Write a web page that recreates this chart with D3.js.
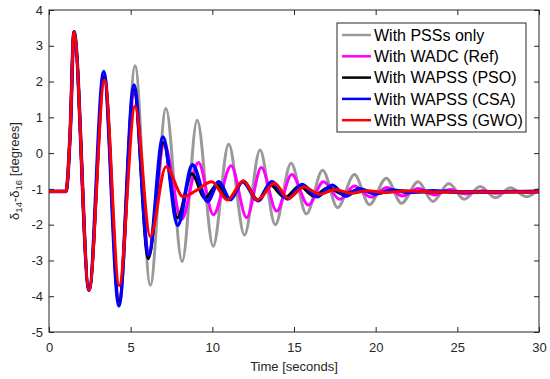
<!DOCTYPE html>
<html>
    <head>
        <meta charset="utf-8">
        <script src="https://d3js.org/d3.v7.min.js"></script>
        <style>
            body{ margin:0; background:#fff; }
            text{ font-family:"Liberation Sans", Arial, sans-serif; fill:#262626; }
        </style>
    </head>
    <body>
        <svg height="379" width="550" id="chart"></svg>
        <script>
            // [time (s), delta14-delta16 (deg)], mostly peaks and troughs
            const startPart=[[0,-1.07],[1.04,-1.07],[1.3,0.6],[1.53,3.39],[2.45,-3.83]];

            const pssOnly=[[3.4,2.2],[4.3,-4.25],[5.27,2.44],[6.2,-3.69],[7.16,1.25],[8.15,-3.03],
                [9.07,0.92],[10.05,-2.6],[11.0,0.25],[11.97,-2.29],[12.92,0.09],[13.85,-2.0],
                [14.82,-0.28],[15.76,-1.7],[16.75,-0.48],[17.67,-1.52],[18.7,-0.6],[19.62,-1.44],
                [20.65,-0.7],[21.58,-1.4],[22.6,-0.8],[23.5,-1.35],[24.48,-0.85],[25.42,-1.29],
                [26.4,-0.93],[27.33,-1.25],[28.25,-0.97],[29.25,-1.22],[30,-1.0]];

            const wadcRef=[[3.38,2.1],[4.3,-4.1],[5.22,1.65],[6.12,-2.75],[7.05,0.25],[8.12,-1.85],
                [9.15,-0.26],[10.06,-1.72],[11.15,-0.35],[12.1,-1.8],[13.0,-0.4],[13.94,-1.62],
                [14.86,-0.6],[15.88,-1.45],[16.8,-0.8],[17.8,-1.29],[18.7,-0.92],[19.7,-1.23],
                [20.7,-0.96],[21.65,-1.2],[22.6,-0.99],[23.6,-1.17],[24.55,-1.02],[25.5,-1.14],
                [26.5,-1.05],[27.4,-1.12],[28.4,-1.06],[29.3,-1.1],[30,-1.08]];

            const wapssPSO=[[3.37,2.15],[4.28,-4.15],[5.2,1.78],[6.08,-2.95],[7.0,0.3],[7.86,-1.81],
                [8.74,-0.58],[9.55,-1.26],[10.3,-0.88],[11.05,-1.3],[11.9,-0.78],[12.8,-1.31],
                [13.5,-0.88],[14.45,-1.24],[15.35,-0.92],[16.2,-1.2],[17.1,-0.97],[18.0,-1.15],
                [19.0,-1.02],[20.0,-1.12],[21.5,-1.05],[23.0,-1.09],[30,-1.08]];

            const wapssCSA=[[3.35,2.28],[4.28,-4.27],[5.2,1.9],[6.1,-2.85],[6.98,0.45],[7.88,-2.02],
                [8.78,-0.33],[9.7,-1.35],[10.4,-0.8],[11.1,-1.3],[11.85,-0.8],[12.8,-1.33],
                [13.65,-0.8],[14.6,-1.28],[15.5,-0.88],[16.4,-1.22],[17.35,-0.9],[18.15,-1.2],
                [19.0,-1.0],[20.0,-1.14],[21.0,-1.03],[22.0,-1.1],[23.5,-1.05],[25.0,-1.09],[30,-1.07]];

            const wapssGWO=[[3.4,2.04],[4.3,-3.7],[5.27,1.32],[6.2,-2.33],[7.16,-0.38],[8.22,-1.22],
                [9.0,-1.05],[9.96,-0.8],[10.92,-1.31],[11.9,-0.77],[12.76,-1.31],[13.8,-0.84],
                [14.65,-1.26],[15.6,-0.95],[16.6,-1.15],[17.5,-1.02],[18.5,-1.12],[19.5,-1.05],
                [20.5,-1.1],[22.0,-1.06],[24.0,-1.09],[30,-1.08]];

            const seriesNames=["With PSSs only","With WADC (Ref)","With WAPSS (PSO)","With WAPSS (CSA)","With WAPSS (GWO)"];
            const seriesColors=["#999999","#ff00ff","#000000","#0000ff","#ff0000"];
            const seriesWidths=[3,3,3,3.6,3];
            const seriesData=[pssOnly,wadcRef,wapssPSO,wapssCSA,wapssGWO];

            const xTicks=[0,5,10,15,20,25,30];
            const yTicks=[-5,-4,-3,-2,-1,0,1,2,3,4];

            let svg=d3.select("#chart");
            let width=+svg.attr("width");
            let height=+svg.attr("height");
            let margin={top:10, right:11, bottom:47, left:49};
            let plotW=width-margin.left-margin.right;
            let plotH=height-margin.top-margin.bottom;

            let xScale=d3.scaleLinear().domain([0,30]).range([0,plotW]);
            let yScale=d3.scaleLinear().domain([-5,4]).range([plotH,0]);

            let g=svg.append("g").attr("transform","translate("+margin.left+","+margin.top+")");

            g.append("defs").append("clipPath").attr("id","clip")
                .append("rect").attr("width",plotW).attr("height",plotH);

            let line=d3.line()
                .x(d=>xScale(d[0]))
                .y(d=>yScale(d[1]))
                .curve(d3.curveMonotoneX);

            let lines=g.append("g").attr("clip-path","url(#clip)");
            seriesData.forEach((s,i)=>{
                lines.append("path")
                    .datum(startPart.concat(s))
                    .attr("d",line)
                    .style("fill","none")
                    .style("stroke",seriesColors[i])
                    .style("stroke-width",seriesWidths[i])
                    .style("stroke-linejoin","round");
            });

            // axes, MATLAB style: ticks inside on all four sides
            let axisColor="#262626";
            let plainFmt=d=>String(d);
            let xAxis=g.append("g").attr("transform","translate(0,"+plotH+")")
                .call(d3.axisBottom(xScale).tickValues(xTicks).tickFormat(plainFmt).tickSizeInner(-5).tickSizeOuter(0).tickPadding(11));
            let xTop=g.append("g")
                .call(d3.axisTop(xScale).tickValues(xTicks).tickSizeInner(-5).tickSizeOuter(0).tickFormat(""));
            let yAxis=g.append("g")
                .call(d3.axisLeft(yScale).tickValues(yTicks).tickFormat(plainFmt).tickSizeInner(-5).tickSizeOuter(0).tickPadding(6));
            let yRight=g.append("g").attr("transform","translate("+plotW+",0)")
                .call(d3.axisRight(yScale).tickValues(yTicks).tickSizeInner(-5).tickSizeOuter(0).tickFormat(""));

            [xAxis,xTop,yAxis,yRight].forEach(a=>{
                a.select(".domain").remove();
                a.selectAll("line").style("stroke",axisColor);
                a.selectAll("text").style("font-size","13px").style("fill",axisColor)
                    .style("font-family","'Liberation Sans', Arial, sans-serif");
            });

            g.append("rect")
                .attr("width",plotW).attr("height",plotH)
                .style("fill","none").style("stroke",axisColor).style("stroke-width",1);

            svg.append("text")
                .attr("x",margin.left+plotW/2).attr("y",371)
                .attr("text-anchor","middle")
                .style("font-size","13px")
                .text("Time [seconds]");

            let yLabel=svg.append("text")
                .attr("transform","translate(19,"+(margin.top+plotH/2)+") rotate(-90)")
                .attr("text-anchor","middle")
                .style("font-size","13px");
            yLabel.append("tspan").text("\u03B4");
            yLabel.append("tspan").attr("baseline-shift","-30%").style("font-size","9.5px").text("14");
            yLabel.append("tspan").text("-\u03B4");
            yLabel.append("tspan").attr("baseline-shift","-30%").style("font-size","9.5px").text("16");
            yLabel.append("tspan").text(" [degrees]");

            // legend
            let legend=svg.append("g");
            legend.append("rect")
                .attr("x",337).attr("y",23).attr("width",189).attr("height",109)
                .style("fill","#fff").style("stroke",axisColor).style("stroke-width",1);
            seriesNames.forEach((name,i)=>{
                let yy=35+i*21.3;
                legend.append("line")
                    .attr("x1",342).attr("x2",371).attr("y1",yy).attr("y2",yy)
                    .style("stroke",seriesColors[i]).style("stroke-width",2.5);
                legend.append("text")
                    .attr("x",374).attr("y",yy).attr("dy","0.36em")
                    .style("font-size","16px").style("fill","#000")
                    .text(name);
            });
        </script>
    </body>
</html>
